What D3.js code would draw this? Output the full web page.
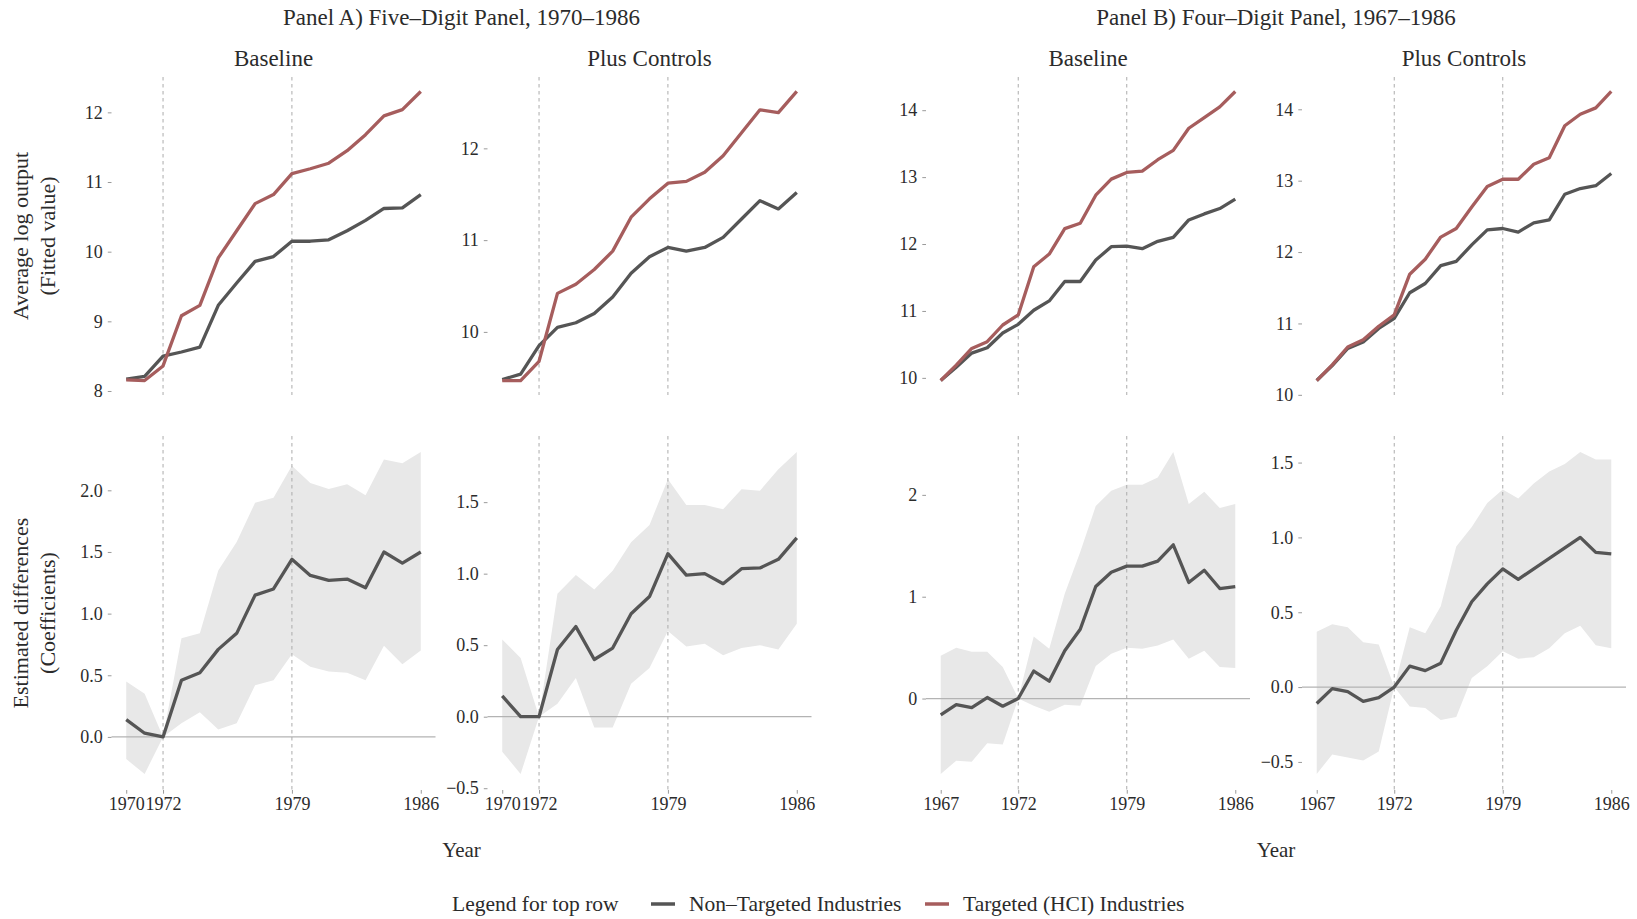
<!DOCTYPE html>
<html><head><meta charset="utf-8">
<script src="https://cdn.jsdelivr.net/npm/d3@7"></script>
<style>
body{margin:0;background:#fff;}
svg{display:block;}
text{font-family:"Liberation Serif","Times New Roman",serif;fill:#2b2b2b;}
</style>
</head><body>
<svg id="chart" width="1637" height="919"></svg>
<script>
// ---------------- DATA ----------------
const yearsA = [1970,1971,1972,1973,1974,1975,1976,1977,1978,1979,1980,1981,1982,1983,1984,1985,1986];
const yearsB = [1967,1968,1969,1970,1971,1972,1973,1974,1975,1976,1977,1978,1979,1980,1981,1982,1983,1984,1985,1986];

// Top row: average log output (fitted values)
const aBaseNonTargeted = [8.17,8.21,8.50,8.56,8.63,9.23,9.55,9.86,9.93,10.15,10.15,10.17,10.30,10.45,10.62,10.63,10.82];
const aBaseTargeted    = [8.16,8.15,8.36,9.08,9.23,9.91,10.30,10.69,10.82,11.12,11.19,11.27,11.45,11.68,11.95,12.04,12.30];
const aCtrlNonTargeted = [9.48,9.54,9.85,10.05,10.10,10.20,10.38,10.64,10.82,10.92,10.88,10.92,11.03,11.23,11.43,11.34,11.52];
const aCtrlTargeted    = [9.47,9.47,9.68,10.42,10.52,10.68,10.88,11.25,11.45,11.62,11.64,11.74,11.92,12.17,12.42,12.39,12.62];
const bBaseNonTargeted = [9.96,10.16,10.37,10.45,10.67,10.80,11.01,11.15,11.44,11.44,11.76,11.96,11.97,11.93,12.04,12.10,12.36,12.45,12.53,12.67];
const bBaseTargeted    = [9.96,10.19,10.44,10.54,10.79,10.94,11.66,11.85,12.23,12.31,12.73,12.97,13.07,13.09,13.26,13.40,13.73,13.89,14.05,14.28];
const bCtrlNonTargeted = [10.20,10.41,10.65,10.74,10.93,11.07,11.43,11.56,11.81,11.87,12.10,12.31,12.33,12.28,12.41,12.45,12.81,12.89,12.93,13.10];
const bCtrlTargeted    = [10.20,10.42,10.67,10.77,10.96,11.12,11.69,11.90,12.21,12.33,12.63,12.92,13.02,13.02,13.23,13.32,13.77,13.93,14.02,14.25];

// Bottom row: estimated differences (coefficients) with confidence band
const aBaseCoef  = [0.14,0.03,0.00,0.46,0.52,0.71,0.84,1.15,1.20,1.44,1.31,1.27,1.28,1.21,1.50,1.41,1.50];
const aBaseUpper = [0.45,0.35,0.00,0.80,0.84,1.35,1.58,1.90,1.94,2.20,2.06,2.01,2.05,1.96,2.25,2.22,2.31];
const aBaseLower = [-0.18,-0.30,0.00,0.11,0.20,0.06,0.11,0.42,0.46,0.67,0.57,0.53,0.52,0.46,0.74,0.59,0.70];
const aCtrlCoef  = [0.145,0.00,0.00,0.47,0.63,0.40,0.48,0.72,0.84,1.14,0.99,1.00,0.93,1.035,1.04,1.10,1.25];
const aCtrlUpper = [0.54,0.41,0.00,0.86,0.99,0.89,1.02,1.22,1.34,1.66,1.48,1.48,1.45,1.59,1.58,1.73,1.85];
const aCtrlLower = [-0.245,-0.40,0.00,0.09,0.27,-0.075,-0.075,0.23,0.34,0.60,0.49,0.51,0.43,0.48,0.50,0.47,0.65];
const bBaseCoef  = [-0.16,-0.06,-0.09,0.01,-0.075,0.00,0.27,0.17,0.47,0.68,1.10,1.24,1.30,1.30,1.35,1.51,1.14,1.26,1.08,1.10];
const bBaseUpper = [0.42,0.50,0.46,0.46,0.31,0.00,0.61,0.49,1.03,1.44,1.89,2.04,2.10,2.10,2.17,2.42,1.91,2.03,1.87,1.91];
const bBaseLower = [-0.74,-0.61,-0.62,-0.44,-0.45,0.00,-0.07,-0.13,-0.06,-0.07,0.32,0.44,0.50,0.49,0.52,0.58,0.39,0.47,0.31,0.30];
const bCtrlCoef  = [-0.11,-0.01,-0.03,-0.095,-0.07,0.00,0.14,0.11,0.16,0.38,0.57,0.69,0.79,0.72,0.79,0.86,0.93,1.00,0.90,0.89];
const bCtrlUpper = [0.37,0.42,0.40,0.30,0.285,0.00,0.40,0.36,0.54,0.94,1.07,1.23,1.32,1.26,1.36,1.44,1.49,1.57,1.52,1.52];
const bCtrlLower = [-0.58,-0.45,-0.47,-0.49,-0.43,0.00,-0.13,-0.14,-0.22,-0.20,0.06,0.14,0.24,0.19,0.20,0.26,0.36,0.41,0.28,0.26];

// Tick labels
const xTicksA = [1970,1972,1979,1986];
const xTicksB = [1967,1972,1979,1986];
const refYears = [1972,1979];
const yTicksTopABase = [8,9,10,11,12];
const yTicksTopACtrl = [10,11,12];
const yTicksTopB     = [10,11,12,13,14];
const yTicksBotABase = [0.0,0.5,1.0,1.5,2.0];
const yTicksBotACtrl = [-0.5,0.0,0.5,1.0,1.5];
const yTicksBotBBase = [0,1,2];
const yTicksBotBCtrl = [-0.5,0.0,0.5,1.0,1.5];

const panelTitles = ["Panel A) Five\u2013Digit Panel, 1970\u20131986","Panel B) Four\u2013Digit Panel, 1967\u20131986"];
const facetTitles = ["Baseline","Plus Controls"];
const seriesNames = ["Non\u2013Targeted Industries","Targeted (HCI) Industries"];
const legendTitle = "Legend for top row";
const xTitle = "Year";
const yTitlesTop = ["Average log output","(Fitted value)"];
const yTitlesBot = ["Estimated differences","(Coefficients)"];

// ---------------- STYLE / LAYOUT ----------------
const darkColor = "#555555";
const redColor  = "#a65d5d";
const bandColor = "#e8e8e8";
const refColor  = "#ababab";
const colLeft = [111.5, 487.5, 926, 1302];
const panelW = 324;
const rowTop = [77, 436];
const rowBot = [395, 790];

const svg = d3.select("#chart");

const topPanels = [
  {col:0, years:yearsA, xt:xTicksA, yt:yTicksTopABase, fmt:d3.format("d"), series:[aBaseNonTargeted,aBaseTargeted]},
  {col:1, years:yearsA, xt:xTicksA, yt:yTicksTopACtrl, fmt:d3.format("d"), series:[aCtrlNonTargeted,aCtrlTargeted]},
  {col:2, years:yearsB, xt:xTicksB, yt:yTicksTopB, fmt:d3.format("d"), series:[bBaseNonTargeted,bBaseTargeted]},
  {col:3, years:yearsB, xt:xTicksB, yt:yTicksTopB, fmt:d3.format("d"), series:[bCtrlNonTargeted,bCtrlTargeted]},
];
const botPanels = [
  {col:0, years:yearsA, xt:xTicksA, yt:yTicksBotABase, fmt:d3.format(".1f"), coef:aBaseCoef, up:aBaseUpper, lo:aBaseLower},
  {col:1, years:yearsA, xt:xTicksA, yt:yTicksBotACtrl, fmt:d3.format(".1f"), coef:aCtrlCoef, up:aCtrlUpper, lo:aCtrlLower},
  {col:2, years:yearsB, xt:xTicksB, yt:yTicksBotBBase, fmt:d3.format("d"), coef:bBaseCoef, up:bBaseUpper, lo:bBaseLower},
  {col:3, years:yearsB, xt:xTicksB, yt:yTicksBotBCtrl, fmt:d3.format(".1f"), coef:bCtrlCoef, up:bCtrlUpper, lo:bCtrlLower},
];

function expand(ext){ const r = ext[1]-ext[0]; return [ext[0]-0.05*r, ext[1]+0.05*r]; }

function makeScales(p, row, allVals){
  const x0 = colLeft[p.col];
  const x = d3.scaleLinear().domain(expand(d3.extent(p.years))).range([x0, x0+panelW]);
  const y = d3.scaleLinear().domain(expand(d3.extent(allVals))).range([rowBot[row], rowTop[row]]);
  return {x,y};
}

function drawFrame(g, p, row, s, withX){
  // y axis
  const ya = g.append("g").attr("transform",`translate(${colLeft[p.col]},0)`)
    .call(d3.axisLeft(s.y).tickValues(p.yt).tickSize(3.7).tickPadding(5).tickFormat(v=>p.fmt(v).replace("-","\u2212")));
  ya.select(".domain").remove();
  ya.selectAll(".tick line").attr("stroke","#9a9a9a");
  ya.selectAll(".tick text").attr("font-family","Liberation Serif").attr("font-size",18).attr("fill","#2b2b2b");
  if(withX){
    const xa = g.append("g").attr("transform",`translate(0,${rowBot[row]})`)
      .call(d3.axisBottom(s.x).tickValues(p.xt).tickSize(3.7).tickPadding(4).tickFormat(d3.format("d")));
    xa.select(".domain").remove();
    xa.selectAll(".tick line").attr("stroke","#9a9a9a");
    xa.selectAll(".tick text").attr("font-family","Liberation Serif").attr("font-size",18).attr("fill","#2b2b2b");
  }
}

function drawRefLines(g, row, s){
  g.selectAll("line.ref").data(refYears).join("line").attr("class","ref")
    .attr("x1",d=>s.x(d)).attr("x2",d=>s.x(d))
    .attr("y1",rowTop[row]).attr("y2",rowBot[row])
    .attr("stroke",refColor).attr("stroke-width",1).attr("stroke-dasharray","3.5,3.5");
}

// top row
topPanels.forEach(p=>{
  const g = svg.append("g");
  const s = makeScales(p, 0, p.series.flat());
  drawRefLines(g, 0, s);
  const line = d3.line().x((d,i)=>s.x(p.years[i])).y(d=>s.y(d));
  [darkColor, redColor].forEach((c,k)=>{
    g.append("path").datum(p.series[k]).attr("d",line).attr("fill","none")
      .attr("stroke",c).attr("stroke-width",3.3).attr("stroke-linejoin","round");
  });
  drawFrame(g, p, 0, s, false);
});

// bottom row
botPanels.forEach(p=>{
  const g = svg.append("g");
  const s = makeScales(p, 1, p.coef.concat(p.up, p.lo));
  const area = d3.area().x((d,i)=>s.x(p.years[i])).y0((d,i)=>s.y(p.lo[i])).y1(d=>s.y(d));
  g.append("path").datum(p.up).attr("d",area).attr("fill",bandColor);
  g.append("line").attr("x1",colLeft[p.col]).attr("x2",colLeft[p.col]+panelW)
    .attr("y1",s.y(0)).attr("y2",s.y(0)).attr("stroke","#b3b3b3").attr("stroke-width",1.2);
  drawRefLines(g, 1, s);
  const line = d3.line().x((d,i)=>s.x(p.years[i])).y(d=>s.y(d));
  g.append("path").datum(p.coef).attr("d",line).attr("fill","none")
    .attr("stroke",darkColor).attr("stroke-width",3.3).attr("stroke-linejoin","round");
  drawFrame(g, p, 1, s, true);
});

// titles
const groupCenters = [(colLeft[0]+colLeft[1]+panelW)/2, (colLeft[2]+colLeft[3]+panelW)/2];
panelTitles.forEach((t,i)=>{
  svg.append("text").attr("x",groupCenters[i]).attr("y",25).attr("text-anchor","middle")
    .attr("font-size",23).text(t);
  svg.append("text").attr("x",groupCenters[i]).attr("y",857).attr("text-anchor","middle")
    .attr("font-size",21).text(xTitle);
});
colLeft.forEach((l,i)=>{
  svg.append("text").attr("x",l+panelW/2).attr("y",66).attr("text-anchor","middle")
    .attr("font-size",23).text(facetTitles[i%2]);
});

// y titles
function yTitle(lines, row){
  const cy = (rowTop[row]+rowBot[row])/2;
  lines.forEach((t,i)=>{
    svg.append("text").attr("transform",`translate(${28+27*i},${cy}) rotate(-90)`)
      .attr("text-anchor","middle").attr("font-size",22).text(t);
  });
}
yTitle(yTitlesTop,0);
yTitle(yTitlesBot,1);

// legend
const lg = svg.append("g");
lg.append("text").attr("x",452).attr("y",911).attr("font-size",21.5).text(legendTitle);
const legendItems = [{name:seriesNames[0], color:darkColor, x:651},{name:seriesNames[1], color:redColor, x:925}];
legendItems.forEach(it=>{
  lg.append("line").attr("x1",it.x).attr("x2",it.x+24).attr("y1",904).attr("y2",904)
    .attr("stroke",it.color).attr("stroke-width",3.5);
  lg.append("text").attr("x",it.x+38).attr("y",911).attr("font-size",21.5).text(it.name);
});
</script>
</body></html>
